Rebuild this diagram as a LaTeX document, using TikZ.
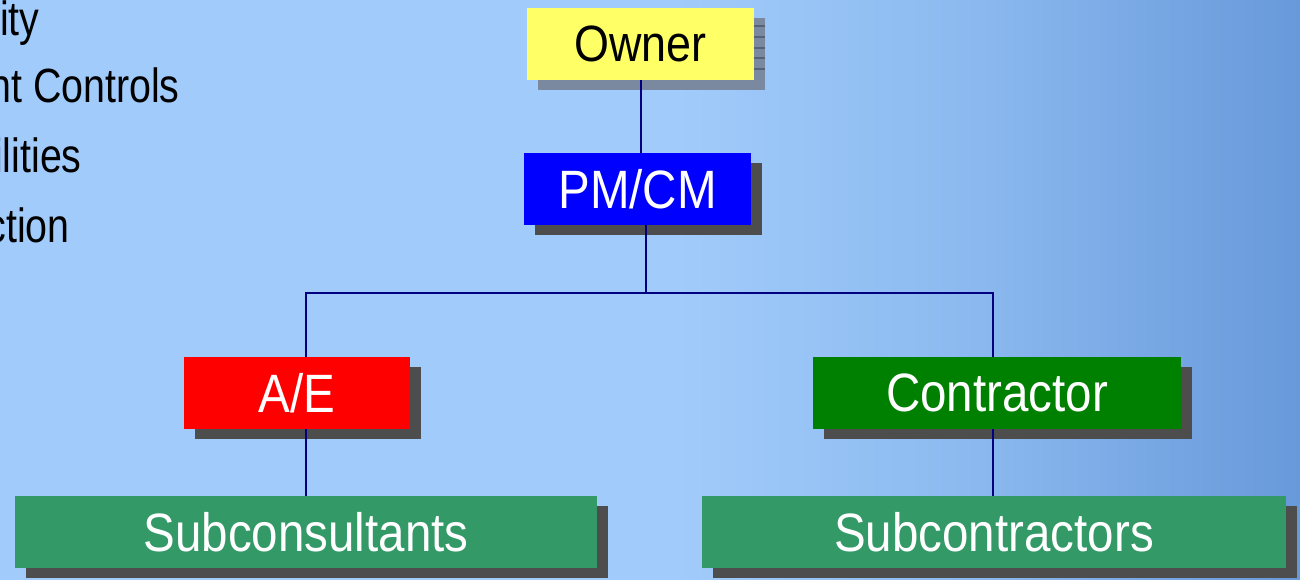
\documentclass[tikz,border=0pt]{standalone}
\usepackage{fontspec}
\setmainfont{Liberation Sans}
\newfontfamily\narrowsans[FakeStretch=0.88]{Liberation Sans}
\newfontfamily\narrowersans[FakeStretch=0.82]{Liberation Sans}
\usetikzlibrary{shadows}

\definecolor{bgleft}{RGB}{161,203,250}
\definecolor{bgmid}{RGB}{140,186,240}
\definecolor{bgright}{RGB}{104,153,218}
\definecolor{ownerfill}{RGB}{255,255,102}
\definecolor{ownershadow}{RGB}{122,136,160}
\definecolor{ownerhatch}{RGB}{88,98,118}
\definecolor{boxshadow}{RGB}{77,77,77}
\definecolor{subgreen}{RGB}{51,153,102}
\definecolor{linknavy}{RGB}{0,0,128}
\pgfdeclarehorizontalshading{bgshade}{100bp}{color(0bp)=(bgleft); color(25bp)=(bgleft);
  color(51bp)=(bgleft); color(62bp)=(bgmid); color(75bp)=(bgright); color(100bp)=(bgright)}

\begin{document}
\begin{tikzpicture}[x=0.5pt, y=-0.5pt,
    orgbox/.style={rectangle, inner sep=0pt, minimum height=36pt, text=white,
      font=\narrowsans\fontsize{27}{30}\selectfont,
      drop shadow={shadow xshift=5.5pt, shadow yshift=-5pt, fill=#1, opacity=1}},
    orgbox/.default=boxshadow,
    bullettext/.style={inner sep=0pt, anchor=base east,
      font=\narrowersans\fontsize{24}{28}\selectfont},
    link/.style={linknavy, line width=1pt}]
                % background
                \useasboundingbox (0, 0) rectangle (1300, 579);
                \clip (0, 0) rectangle (1300, 579);
                \shade [shading=bgshade] (0, 0) rectangle (1300, 579);
                % Bullet text cut at the left edge
                \node [bullettext] (item1) at (40, 35) {ity};
                \node [bullettext] (item2) at (180, 102) {nt Controls};
                \node [bullettext] (item3) at (82, 172) {ilities};
                \node [bullettext] (item4) at (70, 242) {ction};
                % Boxes
                \node [orgbox=ownershadow, fill=ownerfill, text=black, minimum width=113.5pt,
                       font=\narrowsans\fontsize{25.5}{30}\selectfont] (owner) at (640.5, 43.5) {Owner};
                \foreach \y in {26, 37, 48, 58, 69}
                    \draw [ownerhatch, line width=1pt] (owner.east |- 0, \y) -- ++(11, 0);
                \node [orgbox, fill=blue, minimum width=113.5pt] (pmcm) at (637.5, 189) {PM/CM};
                \node [orgbox, fill=red, minimum width=113pt] (ae) at (297, 393) {A/E};
                \node [orgbox, fill=green!50!black, minimum width=184pt] (contractor) at (997, 393) {Contractor};
                \node [orgbox, fill=subgreen, minimum width=291pt] (subcons) at (306, 532) {Subconsultants};
                \node [orgbox, fill=subgreen, minimum width=292pt] (subcontr) at (994, 532) {Subcontractors};
                % Links
                \coordinate (split) at (646, 293);
                \coordinate (leftend) at (306, 293);
                \coordinate (rightend) at (993, 293);
                \draw [link] (owner.south) -- (owner.south |- pmcm.north);
                \draw [link] (pmcm.south -| split) -- (split);
                \draw [link] (ae.north -| leftend) -- (leftend) -- (rightend) -- (contractor.north -| rightend);
                \draw [link] (ae.south -| subcons.north) -- (subcons.north);
                \draw [link] (contractor.south -| rightend) -- (subcontr.north -| rightend);
            \end{tikzpicture}
\end{document}
